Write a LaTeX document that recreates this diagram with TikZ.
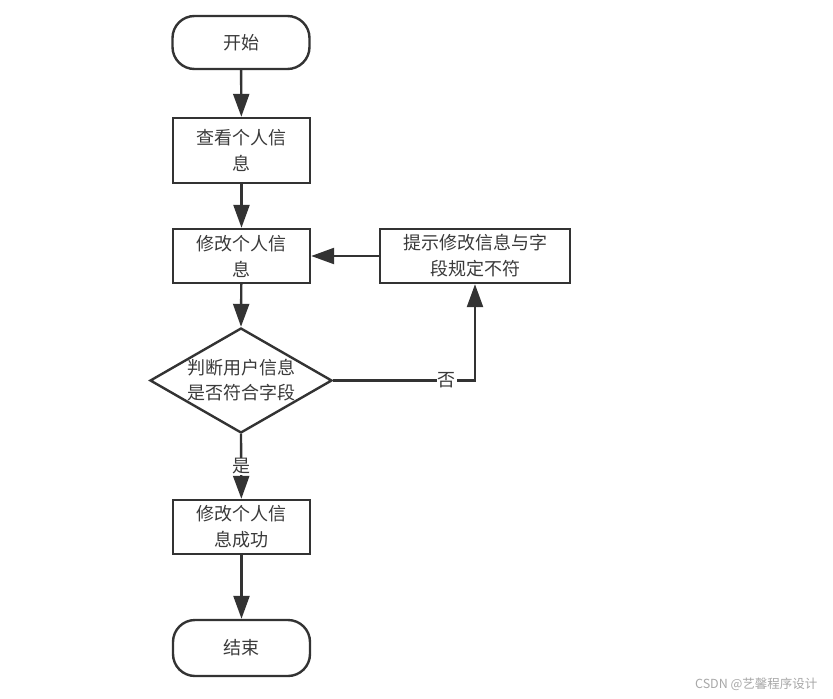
\documentclass[tikz,border=0pt]{standalone}
\usepackage{fontspec}
\newfontfamily\cjk{Noto Sans CJK SC}
\usetikzlibrary{arrows.meta,shapes.geometric}
\definecolor{ln}{HTML}{333333}
\definecolor{tx}{HTML}{3A3A3A}
\definecolor{wm}{HTML}{A8A8A8}
\tikzset{
  base/.style={draw=ln, line width=2.4pt, text=tx, align=center, inner sep=0pt,
    font=\cjk\fontsize{18}{26}\selectfont},
  procbox/.style={base, minimum width=137pt, minimum height=54pt},
  termbox/.style={base, minimum width=137pt, minimum height=54pt, rounded corners=22pt},
  decbox/.style={base, diamond, minimum width=182pt, minimum height=105pt},
  conn/.style={draw=ln, line width=2.4pt, -{Triangle[length=23pt,width=16pt]}},
  lbl/.style={fill=white, text=tx, inner sep=1pt, font=\cjk\fontsize{18}{20}\selectfont}
}
\begin{document}
\begin{tikzpicture}[x=1pt,y=-1pt]
\useasboundingbox (0,0) rectangle (833,699);
\fill[white] (0,0) rectangle (833,699);
\node[termbox, minimum height=53pt] (start) at (241,42.5) {开始};
\node[procbox, minimum height=65pt] (view) at (241.5,150.5) {查看个人信\\息};
\node[procbox] (edit) at (241.5,256) {修改个人信\\息};
\node[procbox, minimum width=190pt] (hint) at (475,256) {提示修改信息与字\\段规定不符};
\node[decbox] (dec) at (241,380.5) {};
\node[text=tx, align=center, font=\cjk\fontsize{18}{25}\selectfont] (dectext) at (241,380.5) {判断用户信息\\是否符合字段};
\node[procbox] (ok) at (241.5,527) {修改个人信\\息成功};
\node[termbox, minimum height=56pt] (stop) at (241.5,648) {结束};
\draw[conn] (start) -- (view);
\draw[conn] (view) -- (edit);
\draw[conn] (edit) -- (dec.north);
\draw[conn] (dec.south) -- node[lbl, pos=0.5] {是} (ok);
\draw[conn] (dec.east) -| node[lbl, pos=0.4] {否} (hint.south);
\draw[conn] (hint.west) -- (edit.east);
\draw[conn] (ok) -- (stop);
\node[text=wm, anchor=east, font=\cjk\fontsize{12.5}{14}\selectfont] (wmark) at (821,684) {CSDN @艺馨程序设计};
\end{tikzpicture}
\end{document}
